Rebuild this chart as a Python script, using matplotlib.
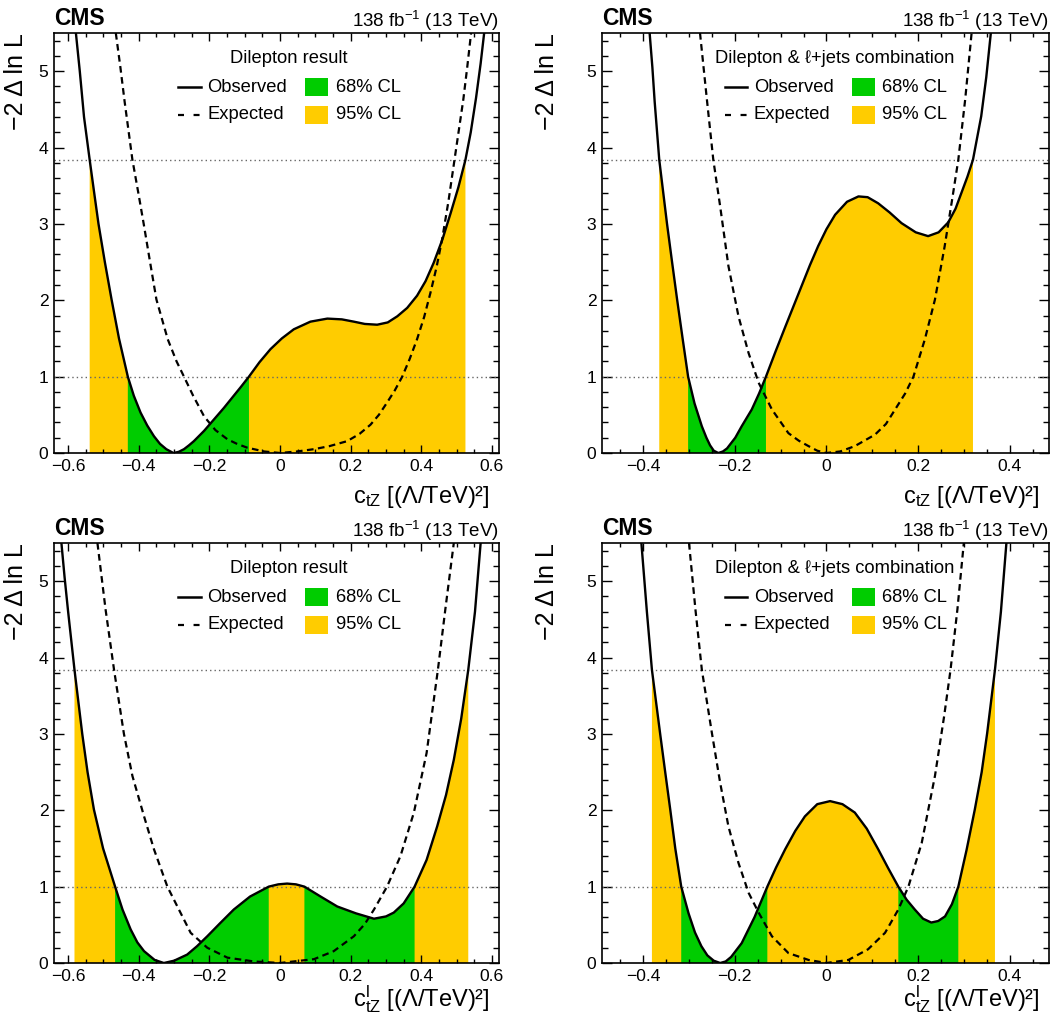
import matplotlib
matplotlib.use('Agg')
import matplotlib.pyplot as plt
import numpy as np
from matplotlib.ticker import MultipleLocator, FuncFormatter
from matplotlib.lines import Line2D
from matplotlib.patches import Rectangle

# Styles:
green = '#00cc00'
yellow = '#ffcc00'
dotColour = '#666666'
font_tick = 12.6
font_leg = 13.2
font_label = 17

plt.rcParams['font.family'] = ['Liberation Sans', 'DejaVu Sans']
plt.rcParams['mathtext.fontset'] = 'custom'
plt.rcParams['mathtext.rm'] = 'Liberation Sans'
plt.rcParams['mathtext.it'] = 'Liberation Sans'
plt.rcParams['mathtext.bf'] = 'Liberation Sans:bold'
plt.rcParams['mathtext.default'] = 'regular'

# Data, -2 Delta ln L vs Wilson coefficient
# top left: dilepton, ctZ
tl_obs_x = [-0.578, -0.567, -0.555, -0.539, -0.526, -0.514, -0.496, -0.477, -0.456, -0.431, -0.414, -0.395,
            -0.376, -0.357, -0.340, -0.322, -0.302, -0.287, -0.272, -0.258, -0.244, -0.215, -0.187, -0.159,
            -0.131, -0.110, -0.088, -0.058, -0.027, 0.005, 0.039, 0.086, 0.134, 0.175, 0.209, 0.240, 0.275,
            0.305, 0.332, 0.360, 0.388, 0.412, 0.435, 0.460, 0.483, 0.505, 0.525, 0.540, 0.555, 0.568, 0.578]
tl_obs_y = [5.5, 5.0, 4.4, 3.84, 3.4, 3.0, 2.5, 2.01, 1.5, 1.0, 0.75, 0.53,
            0.36, 0.22, 0.12, 0.05, 0.0, 0.015, 0.05, 0.10, 0.155, 0.29, 0.44, 0.59,
            0.75, 0.87, 1.0, 1.19, 1.36, 1.50, 1.62, 1.72, 1.76, 1.75, 1.72, 1.69, 1.68,
            1.71, 1.79, 1.90, 2.06, 2.25, 2.49, 2.80, 3.14, 3.48, 3.84, 4.20, 4.65, 5.1, 5.5]
tl_exp_x = [-0.465, -0.452, -0.440, -0.418, -0.401, -0.386, -0.368, -0.350, -0.318, -0.293, -0.272, -0.246,
            -0.215, -0.183, -0.149, -0.122, -0.093, -0.045, 0.0, 0.048, 0.096, 0.140, 0.190, 0.225, 0.256,
            0.280, 0.303, 0.325, 0.346, 0.367, 0.388, 0.408, 0.426, 0.443, 0.459, 0.477, 0.494, 0.507,
            0.519, 0.530, 0.541]
tl_exp_y = [5.5, 5.05, 4.6, 3.84, 3.4, 3.0, 2.5, 2.01, 1.49, 1.2, 1.0, 0.75,
            0.48, 0.30, 0.18, 0.12, 0.07, 0.02, 0.0, 0.02, 0.05, 0.09, 0.155, 0.25, 0.37,
            0.50, 0.66, 0.82, 1.0, 1.23, 1.49, 1.78, 2.10, 2.43, 2.80, 3.30, 3.84, 4.25,
            4.63, 5.05, 5.5]

# top right: dilepton + l+jets, ctZ
tr_obs_x = [-0.386, -0.380, -0.375, -0.365, -0.348, -0.337, -0.326, -0.314, -0.302, -0.288, -0.272, -0.262,
            -0.254, -0.246, -0.236, -0.226, -0.217, -0.199, -0.185, -0.163, -0.147, -0.132, -0.111, -0.090,
            -0.072, -0.054, -0.036, -0.018, 0.0, 0.019, 0.045, 0.070, 0.090, 0.113, 0.138, 0.164, 0.195,
            0.222, 0.245, 0.266, 0.282, 0.295, 0.308, 0.320, 0.338, 0.349, 0.359]
tr_obs_y = [5.5, 5.05, 4.6, 3.84, 3.0, 2.5, 2.01, 1.5, 1.0, 0.65, 0.35, 0.20,
            0.10, 0.03, 0.0, 0.02, 0.06, 0.20, 0.35, 0.57, 0.78, 1.0, 1.33, 1.65,
            1.92, 2.19, 2.46, 2.71, 2.93, 3.12, 3.29, 3.36, 3.35, 3.27, 3.15, 3.01, 2.89,
            2.84, 2.89, 3.02, 3.20, 3.41, 3.62, 3.84, 4.41, 4.92, 5.5]
tr_exp_x = [-0.276, -0.261, -0.247, -0.232, -0.214, -0.192, -0.170, -0.148, -0.119, -0.083, -0.060, -0.039,
            -0.020, 0.0, 0.030, 0.062, 0.106, 0.130, 0.150, 0.172, 0.190, 0.215, 0.237, 0.258, 0.274,
            0.288, 0.303, 0.317]
tr_exp_y = [5.5, 4.63, 3.84, 3.23, 2.45, 1.79, 1.31, 0.92, 0.57, 0.26, 0.16, 0.09,
            0.03, 0.0, 0.02, 0.09, 0.24, 0.38, 0.57, 0.78, 1.0, 1.49, 2.01, 2.70, 3.30,
            3.84, 4.63, 5.5]

# bottom left: dilepton, ctZ^l
bl_obs_x = [-0.619, -0.610, -0.600, -0.582, -0.560, -0.545, -0.527, -0.501, -0.467, -0.446, -0.423, -0.404,
            -0.385, -0.355, -0.329, -0.300, -0.263, -0.235, -0.206, -0.170, -0.131, -0.085, -0.032, -0.005,
            0.020, 0.045, 0.069, 0.115, 0.162, 0.215, 0.266, 0.300, 0.322, 0.350, 0.381, 0.415, 0.445,
            0.470, 0.492, 0.513, 0.533, 0.552, 0.568]
bl_obs_y = [5.5, 5.05, 4.6, 3.84, 3.0, 2.5, 2.01, 1.5, 1.0, 0.7, 0.44, 0.27,
            0.155, 0.04, 0.0, 0.03, 0.11, 0.22, 0.35, 0.52, 0.70, 0.87, 1.0, 1.03,
            1.04, 1.03, 1.0, 0.87, 0.74, 0.65, 0.58, 0.61, 0.66, 0.78, 1.0, 1.35, 1.79,
            2.2, 2.66, 3.2, 3.84, 4.6, 5.5]
bl_exp_x = [-0.517, -0.494, -0.470, -0.442, -0.418, -0.385, -0.357, -0.319, -0.282, -0.253, -0.206, -0.149,
            -0.074, 0.0, 0.096, 0.152, 0.209, 0.240, 0.266, 0.303, 0.341, 0.379, 0.415, 0.447, 0.468, 0.492]
bl_exp_y = [5.5, 4.63, 3.84, 3.0, 2.45, 1.92, 1.49, 1.0, 0.66, 0.395, 0.20, 0.07,
            0.02, 0.0, 0.05, 0.155, 0.35, 0.51, 0.70, 1.0, 1.40, 1.97, 2.75, 3.84, 4.63, 5.5]

# bottom right: dilepton + l+jets, ctZ^l
br_obs_x = [-0.404, -0.398, -0.392, -0.381, -0.363, -0.352, -0.341, -0.330, -0.317, -0.301, -0.287, -0.273,
            -0.260, -0.246, -0.232, -0.220, -0.208, -0.185, -0.157, -0.129, -0.110, -0.090, -0.068, -0.047,
            -0.020, 0.008, 0.035, 0.062, 0.088, 0.113, 0.135, 0.157, 0.175, 0.193, 0.211, 0.229, 0.244,
            0.259, 0.274, 0.288, 0.306, 0.324, 0.339, 0.351, 0.368, 0.381, 0.393]
br_obs_y = [5.5, 5.05, 4.6, 3.84, 3.0, 2.5, 2.01, 1.5, 1.0, 0.65, 0.40, 0.22,
            0.10, 0.03, 0.0, 0.02, 0.08, 0.26, 0.60, 1.0, 1.25, 1.49, 1.73, 1.92,
            2.08, 2.12, 2.08, 1.97, 1.76, 1.49, 1.24, 1.0, 0.83, 0.70, 0.58, 0.53, 0.55,
            0.61, 0.77, 1.0, 1.48, 2.01, 2.50, 3.01, 3.84, 4.6, 5.5]
br_exp_x = [-0.300, -0.286, -0.272, -0.250, -0.232, -0.214, -0.192, -0.170, -0.148, -0.119, -0.083, -0.039,
            0.0, 0.048, 0.091, 0.128, 0.157, 0.179, 0.208, 0.237, 0.257, 0.271, 0.286, 0.300]
br_exp_y = [5.5, 4.63, 3.84, 3.01, 2.36, 1.79, 1.31, 0.92, 0.66, 0.35, 0.13, 0.04,
            0.0, 0.04, 0.18, 0.395, 0.70, 1.0, 1.57, 2.45, 3.23, 3.84, 4.63, 5.5]

cl68 = 1.0
cl95 = 3.84

titles = ['Dilepton result', 'Dilepton & \u2113+jets combination']
xlabels = ['$c_{tZ}$ [(\u039b/TeV)\u00b2]', '$c^{l}_{tZ}$ [(\u039b/TeV)\u00b2]']


def xfmt(v, pos):
    if abs(v) < 1e-9:
        return '0'
    return ('%.1f' % v).replace('-', '\u2212')


def draw_panel(ax, ox, oy, ex, ey, xlim, title, xlabel, left, bottom):
    ox = np.array(ox)
    oy = np.array(oy)
    ax.fill_between(ox, 0, oy, where=oy <= cl95 + 1e-6, color=yellow, edgecolor='none')
    ax.fill_between(ox, 0, oy, where=oy <= cl68 + 1e-6, color=green, edgecolor='none')
    ax.axhline(cl68, color=dotColour, lw=1, ls=(0, (1, 2.2)))
    ax.axhline(cl95, color=dotColour, lw=1, ls=(0, (1, 2.2)))
    ax.plot(ex, ey, color='k', lw=1.6, ls=(0, (3, 2)))
    ax.plot(ox, oy, color='k', lw=1.7, solid_joinstyle='round')
    ax.set_xlim(*xlim)
    ax.set_ylim(0, 5.5)

    ax.xaxis.set_major_locator(MultipleLocator(0.2))
    ax.xaxis.set_minor_locator(MultipleLocator(0.05))
    ax.yaxis.set_major_locator(MultipleLocator(1))
    ax.yaxis.set_minor_locator(MultipleLocator(0.2))
    ax.xaxis.set_major_formatter(FuncFormatter(xfmt))
    ax.yaxis.set_major_formatter(FuncFormatter(lambda v, p: '%d' % v))
    ax.tick_params(which='both', direction='in', top=True, right=True, labelsize=font_tick)
    ax.tick_params(axis='x', which='major', length=5.5, width=1, pad=4)
    ax.tick_params(axis='x', which='minor', length=2.7, width=1)
    ax.tick_params(axis='y', which='major', length=7, width=1, pad=4)
    ax.tick_params(axis='y', which='minor', length=4.3, width=1)
    for s in ax.spines.values():
        s.set_linewidth(1.2)

    # header
    ax.text(0, 1.019, 'CMS', transform=ax.transAxes, fontsize=16.5, fontweight='bold',
            ha='left', va='baseline')
    ax.text(1, 1.014, '138 fb$^{-1}$ (13 TeV)', transform=ax.transAxes, fontsize=13.5,
            ha='right', va='baseline')

    # axis titles
    ax.text(-0.085 if left else -0.122, 1.0, '\u22122 \u0394 ln L', transform=ax.transAxes,
            fontsize=18, rotation=90, ha='center', va='top')
    ax.text(0.98, -0.104 if bottom else -0.119, xlabel, transform=ax.transAxes,
            fontsize=font_label, ha='right', va='baseline')

    # legend
    if left:
        lx0, lx1, tx1, bx0, bx1, tx2, tc = 0.279, 0.330, 0.344, 0.564, 0.616, 0.634, 0.528
    else:
        lx0, lx1, tx1, bx0, bx1, tx2, tc = 0.2745, 0.325, 0.340, 0.559, 0.611, 0.626, 0.521
    r1, r2 = 0.871, 0.805
    ax.text(tc, 0.940, title, transform=ax.transAxes, fontsize=font_leg, ha='center', va='center')
    ax.add_line(Line2D([lx0, lx1], [r1, r1], transform=ax.transAxes, color='k', lw=1.8))
    ax.add_line(Line2D([lx0, lx1], [r2, r2], transform=ax.transAxes, color='k', lw=1.6,
                       ls=(0, (2.7, 4.3))))
    ax.text(tx1, r1, 'Observed', transform=ax.transAxes, fontsize=font_leg, va='center')
    ax.text(tx1, r2, 'Expected', transform=ax.transAxes, fontsize=font_leg, va='center')
    ax.add_patch(Rectangle((bx0, r1 - 0.022), bx1 - bx0, 0.044, transform=ax.transAxes,
                           color=green, lw=0))
    ax.add_patch(Rectangle((bx0, r2 - 0.022), bx1 - bx0, 0.044, transform=ax.transAxes,
                           color=yellow, lw=0))
    ax.text(tx2, r1, '68% CL', transform=ax.transAxes, fontsize=font_leg, va='center')
    ax.text(tx2, r2, '95% CL', transform=ax.transAxes, fontsize=font_leg, va='center')


fig = plt.figure(figsize=(10.55, 10.19), dpi=100)
ax_tl = fig.add_axes([54 / 1055, 1 - 453 / 1019, 445 / 1055, 420 / 1019])
ax_tr = fig.add_axes([602 / 1055, 1 - 453 / 1019, 447 / 1055, 420 / 1019])
ax_bl = fig.add_axes([54 / 1055, 1 - 963 / 1019, 445 / 1055, 420 / 1019])
ax_br = fig.add_axes([602 / 1055, 1 - 963 / 1019, 447 / 1055, 420 / 1019])

draw_panel(ax_tl, tl_obs_x, tl_obs_y, tl_exp_x, tl_exp_y, (-0.64, 0.62), titles[0], xlabels[0], True, False)
draw_panel(ax_tr, tr_obs_x, tr_obs_y, tr_exp_x, tr_exp_y, (-0.49, 0.486), titles[1], xlabels[0], False, False)
draw_panel(ax_bl, bl_obs_x, bl_obs_y, bl_exp_x, bl_exp_y, (-0.64, 0.62), titles[0], xlabels[1], True, True)
draw_panel(ax_br, br_obs_x, br_obs_y, br_exp_x, br_exp_y, (-0.49, 0.486), titles[1], xlabels[1], False, True)

plt.savefig('out.png', dpi=100)
